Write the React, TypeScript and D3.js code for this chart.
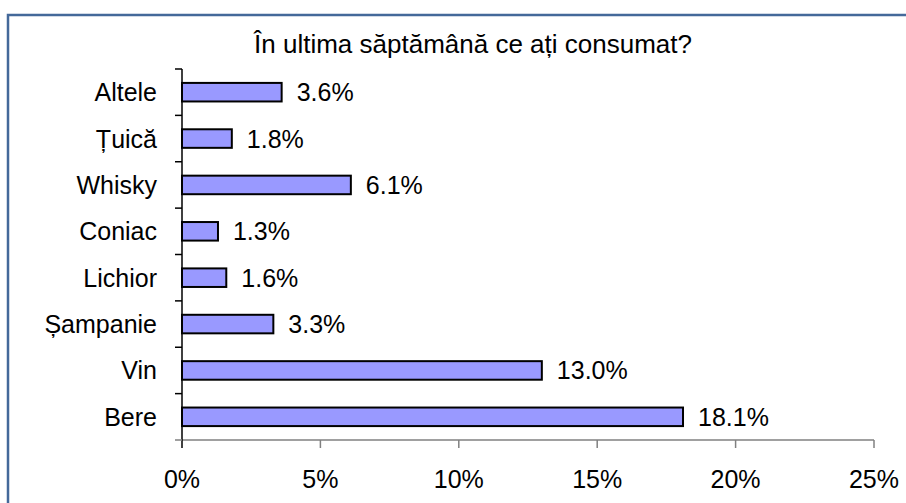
import React, { useEffect, useRef } from 'react';
import * as d3 from 'd3';

const categories: string[] = ['Altele', 'Țuică', 'Whisky', 'Coniac', 'Lichior', 'Șampanie', 'Vin', 'Bere'];
const values: number[] = [0.036, 0.018, 0.061, 0.013, 0.016, 0.033, 0.13, 0.181];
const xTicks: number[] = [0, 0.05, 0.1, 0.15, 0.2, 0.25];
const title = 'În ultima săptămână ce ați consumat?';

const width = 906;
const height = 503;
const font = '"Liberation Sans", Arial, sans-serif';

export default function App() {
  const ref = useRef<SVGSVGElement>(null);

  useEffect(() => {
    const svg = d3.select(ref.current);
    svg.selectAll('*').remove();

    const margin = { top: 69, right: 32, bottom: 63, left: 182 };

    // frame around the chart, cut at the right and bottom
    svg.append('path')
      .attr('d', `M8,${height} L8,15 L${width},15`)
      .attr('fill', 'none')
      .attr('stroke', '#44699a')
      .attr('stroke-width', 2.5);

    const x = d3.scaleLinear()
      .domain([0, 0.25])
      .range([margin.left, width - margin.right]);

    const y = d3.scaleBand<string>()
      .domain(categories)
      .range([margin.top, height - margin.bottom])
      .padding(0);

    const barH = y.bandwidth() * 0.4;

    svg.append('text')
      .attr('x', 473)
      .attr('y', 53)
      .attr('text-anchor', 'middle')
      .style('font-family', font)
      .style('font-size', '26px')
      .text(title);

    // x axis (gray)
    const xAxis = svg.append('g');
    xAxis.append('line')
      .attr('x1', x(0)).attr('x2', x(0.25))
      .attr('y1', y.range()[1]).attr('y2', y.range()[1])
      .attr('stroke', '#808080').attr('stroke-width', 1.5);
    xAxis.selectAll('line.tick')
      .data(xTicks)
      .enter()
      .append('line')
      .attr('class', 'tick')
      .attr('x1', d => x(d)).attr('x2', d => x(d))
      .attr('y1', y.range()[1]).attr('y2', y.range()[1] + 8)
      .attr('stroke', d => (d === 0 ? '#000' : '#808080'))
      .attr('stroke-width', 1.5);
    xAxis.selectAll('text')
      .data(xTicks)
      .enter()
      .append('text')
      .attr('x', d => x(d))
      .attr('y', 488)
      .attr('text-anchor', 'middle')
      .style('font-family', font)
      .style('font-size', '25px')
      .text(d => d3.format('.0%')(d));

    // y axis
    const yAxis = svg.append('g');
    yAxis.append('line')
      .attr('x1', x(0)).attr('x2', x(0))
      .attr('y1', y.range()[0]).attr('y2', y.range()[1])
      .attr('stroke', '#000').attr('stroke-width', 1.5);
    const bounds = categories.map(c => y(c) as number).concat([y.range()[1]]);
    yAxis.selectAll('line.tick')
      .data(bounds)
      .enter()
      .append('line')
      .attr('class', 'tick')
      .attr('x1', x(0) - 7).attr('x2', x(0))
      .attr('y1', d => d).attr('y2', d => d)
      .attr('stroke', (d, i) => (i === bounds.length - 1 ? '#808080' : '#000'))
      .attr('stroke-width', 1.5);
    yAxis.selectAll('text')
      .data(categories)
      .enter()
      .append('text')
      .attr('x', x(0) - 25)
      .attr('y', d => (y(d) as number) + y.bandwidth() / 2)
      .attr('dy', '0.36em')
      .attr('text-anchor', 'end')
      .style('font-family', font)
      .style('font-size', '25px')
      .text(d => d);

    // bars
    svg.selectAll('rect.bar')
      .data(values)
      .enter()
      .append('rect')
      .attr('class', 'bar')
      .attr('x', x(0))
      .attr('y', (d, i) => (y(categories[i]) as number) + (y.bandwidth() - barH) / 2)
      .attr('width', d => x(d) - x(0))
      .attr('height', barH)
      .attr('fill', '#9999ff')
      .attr('stroke', '#000')
      .attr('stroke-width', 2);

    svg.selectAll('text.value')
      .data(values)
      .enter()
      .append('text')
      .attr('class', 'value')
      .attr('x', d => x(d) + 15)
      .attr('y', (d, i) => (y(categories[i]) as number) + y.bandwidth() / 2)
      .attr('dy', '0.36em')
      .style('font-family', font)
      .style('font-size', '25px')
      .text(d => d3.format('.1%')(d));
  }, []);

  return (
    <svg
      ref={ref}
      width={width}
      height={height}
      style={{ position: 'absolute', left: 0, top: 0, background: '#fff' }}
    />
  );
}
